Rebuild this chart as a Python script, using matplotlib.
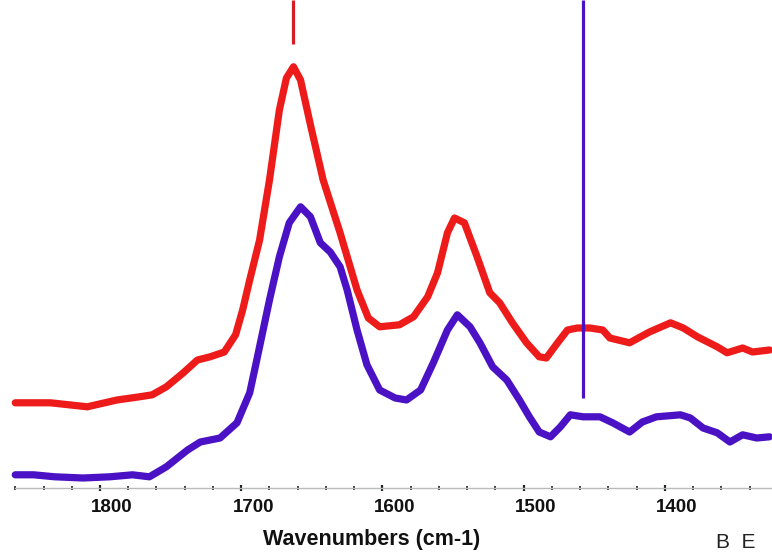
import numpy as np
import matplotlib.pyplot as plt
import matplotlib.transforms as mtransforms
from matplotlib.ticker import MultipleLocator

# FTIR spectra, upper (red) and lower (purple) traces
red_wn = [1860, 1835, 1809, 1788, 1772, 1763, 1753, 1741, 1731, 1722,
          1712, 1704, 1699, 1694, 1687, 1680, 1673, 1668, 1663, 1658,
          1651, 1642, 1630, 1618, 1610, 1602, 1588, 1578, 1568, 1561,
          1554, 1549, 1542, 1533, 1524, 1517, 1508, 1498, 1489, 1484,
          1476, 1469, 1462, 1453, 1444, 1439, 1425, 1411, 1396, 1387,
          1377, 1363, 1356, 1345, 1338, 1326]
red_abs = [0.213, 0.213, 0.203, 0.22, 0.228, 0.233, 0.253, 0.288, 0.32, 0.328,
           0.34, 0.383, 0.445, 0.52, 0.62, 0.77, 0.945, 1.025, 1.053, 1.02,
           0.908, 0.77, 0.638, 0.495, 0.425, 0.403, 0.408, 0.428, 0.478, 0.538,
           0.638, 0.675, 0.663, 0.578, 0.488, 0.463, 0.413, 0.363, 0.328, 0.325,
           0.363, 0.395, 0.40, 0.40, 0.395, 0.375, 0.363, 0.39, 0.413, 0.40,
           0.378, 0.353, 0.338, 0.35, 0.34, 0.345]

purple_wn = [1860, 1847, 1832, 1812, 1793, 1777, 1765, 1753, 1738, 1729,
             1715, 1703, 1694, 1689, 1680, 1673, 1666, 1658, 1651, 1644,
             1637, 1630, 1625, 1618, 1611, 1602, 1591, 1583, 1573, 1564,
             1554, 1547, 1538, 1531, 1522, 1512, 1503, 1496, 1489, 1481,
             1474, 1467, 1458, 1446, 1437, 1425, 1416, 1406, 1389, 1382,
             1373, 1363, 1354, 1345, 1335, 1326]
purple_abs = [0.033, 0.033, 0.028, 0.025, 0.028, 0.033, 0.028, 0.053, 0.095, 0.115,
              0.125, 0.163, 0.238, 0.32, 0.47, 0.578, 0.663, 0.703, 0.678, 0.613,
              0.59, 0.553, 0.495, 0.395, 0.308, 0.245, 0.225, 0.22, 0.245, 0.313,
              0.395, 0.433, 0.403, 0.363, 0.303, 0.27, 0.22, 0.178, 0.14, 0.128,
              0.153, 0.183, 0.178, 0.178, 0.163, 0.14, 0.165, 0.178, 0.183, 0.175,
              0.15, 0.138, 0.115, 0.133, 0.125, 0.128]

# peak markers: (wavenumber, lower end of line)
red_marker = (1663, 1.11)
purple_marker = (1458, 0.225)

major_ticks = [1800, 1700, 1600, 1500, 1400]

RED = '#ee1b1b'
PURPLE = '#4a12c4'

fig = plt.figure(figsize=(7.72, 5.53), dpi=100)
ax = fig.add_axes([0, 65 / 553, 1, 488 / 553])

ax.plot(red_wn, red_abs, color=RED, lw=5.2, solid_joinstyle='round',
        solid_capstyle='round')
ax.plot(purple_wn, purple_abs, color=PURPLE, lw=5.2, solid_joinstyle='round',
        solid_capstyle='round')

ymax = 1.22
ax.vlines(red_marker[0], red_marker[1], ymax, color='#d81c26', lw=2.3)
ax.vlines(purple_marker[0], purple_marker[1], ymax, color=PURPLE, lw=2.3)

ax.set_xlim(1870.8, 1324.2)
ax.set_ylim(0, ymax)

for s in ['top', 'left', 'right']:
    ax.spines[s].set_visible(False)
ax.spines['bottom'].set_color('#b8bcbc')
ax.spines['bottom'].set_linewidth(1.0)
ax.spines['bottom'].set_bounds(1860, 1324.2)

ax.set_yticks([])
ax.set_xticks(major_ticks)
ax.set_xticklabels([str(t) for t in major_ticks])
ax.xaxis.set_minor_locator(MultipleLocator(20))
ax.tick_params(axis='x', which='major', direction='inout', length=4, width=1.6,
               color='#222222', pad=6)
ax.tick_params(axis='x', which='minor', direction='inout', length=2.5, width=1.3,
               color='#333333')

offset = mtransforms.ScaledTranslation(0.12, 0, fig.dpi_scale_trans)
for lab in ax.get_xticklabels():
    lab.set_fontfamily('Liberation Sans')
    lab.set_fontweight('bold')
    lab.set_fontsize(13.5)
    lab.set_color('#111111')
    lab.set_transform(lab.get_transform() + offset)

fig.text(372 / 772, 1 - 540 / 553, 'Wavenumbers (cm-1)', ha='center', va='center',
         family='Liberation Sans', fontweight='bold', fontsize=15.5, color='#111111')
fig.text(716 / 772, 1 / 553, 'B  E', ha='left', va='bottom',
         family='Liberation Sans', fontsize=15, color='#222222')

fig.savefig('out.png', dpi=100, facecolor='white')
